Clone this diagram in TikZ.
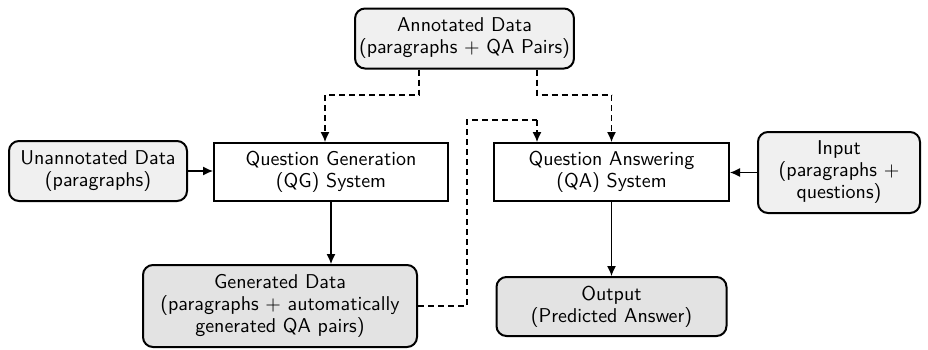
\documentclass[tikz,border=0pt]{standalone}
\usetikzlibrary{arrows.meta}
\definecolor{lightfill}{gray}{0.94}
\definecolor{darkfill}{gray}{0.89}
\tikzset{
  box/.style={draw, line width=1pt, align=center, inner sep=2pt, font=\sffamily\fontsize{10}{11}\selectfont},
  softbox/.style={box, rounded corners=5pt, fill=lightfill},
  darkbox/.style={box, rounded corners=5pt, fill=darkfill},
  sysbox/.style={box, fill=white},
  solidarrow/.style={line width=0.6pt, -{Latex[length=5pt,width=4.5pt]}},
  dasharrow/.style={line width=0.6pt, dash pattern=on 3pt off 2pt, -{Latex[length=5pt,width=4.5pt]}},
  dashline/.style={line width=0.6pt, dash pattern=on 3pt off 2pt}
}
\begin{document}
\begin{tikzpicture}[x=0.5pt,y=-0.5pt]
\useasboundingbox (0,0) rectangle (928,349);
\node[softbox, minimum width=102.5pt, minimum height=30pt] (ann) at (464.5,38.5) {Annotated Data\\(paragraphs $+$ QA Pairs)};
\node[softbox, minimum width=89pt, minimum height=30pt] (unann) at (98,171) {Unannotated Data\\(paragraphs)};
\node[sysbox, minimum width=117pt, minimum height=29pt] (qg) at (331,172) {Question Generation\\(QG) System};
\node[sysbox, minimum width=117.5pt, minimum height=29pt] (qa) at (611.5,172) {Question Answering\\(QA) System};
\node[softbox, minimum width=81pt, minimum height=40.5pt] (inp) at (839,172.5) {Input\\(paragraphs $+$\\questions)};
\node[darkbox, minimum width=137pt, minimum height=41pt] (gen) at (280,306) {Generated Data\\(paragraphs $+$ automatically\\generated QA pairs)};
\node[darkbox, minimum width=115pt, minimum height=29.5pt] (out) at (611.5,306.5) {Output\\(Predicted Answer)};
\coordinate (a1) at (419,95);
\coordinate (a2) at (325,95);
\coordinate (b1) at (537,95);
\coordinate (b2) at (611.5,95);
\coordinate (c1) at (467,306);
\coordinate (c2) at (467,120);
\coordinate (c3) at (537,120);
\draw[dashline] (ann.south -| a1) -- (a1) -- (a2);
\draw[dasharrow] (a2) -- (a2 |- qg.north);
\draw[dashline] (ann.south -| b1) -- (b1) -- (b2);
\draw[dasharrow] (b2) -- (qa.north);
\draw[dashline] (gen.east) -- (c1 |- gen.east) -- (c2) -- (c3);
\draw[dasharrow] (c3) -- (c3 |- qa.north);
\draw[solidarrow] (unann.east) -- (unann.east -| qg.west);
\draw[solidarrow] (inp.west) -- (inp.west -| qa.east);
\draw[solidarrow] (qg.south) -- (qg.south |- gen.north);
\draw[solidarrow] (qa.south) -- (out.north);
\end{tikzpicture}
\end{document}
